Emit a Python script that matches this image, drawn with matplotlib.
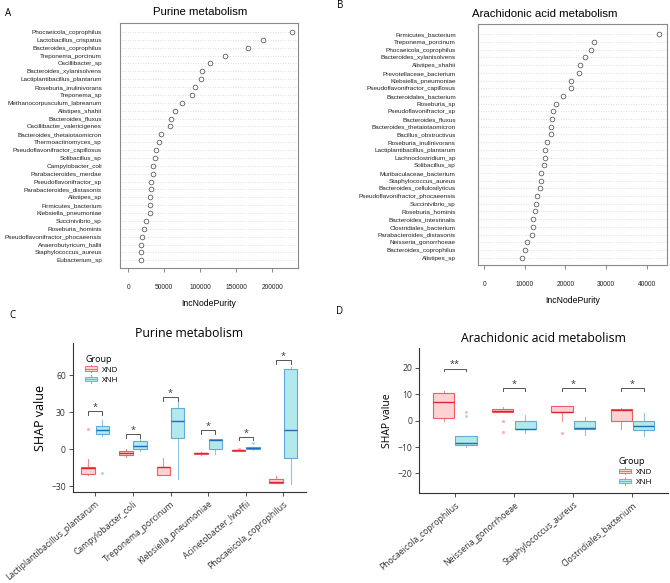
import numpy as np
import matplotlib
matplotlib.use("Agg")
import matplotlib.pyplot as plt
from matplotlib.patches import Rectangle, Patch
from matplotlib.lines import Line2D
from matplotlib.legend_handler import HandlerBase

# ---- data: panel A (IncNodePurity, purine metabolism), top to bottom
a_taxa = ["Phocaeicola_coprophilus", "Lactobacillus_crispatus", "Bacteroides_coprophilus",
          "Treponema_porcinum", "Oscillibacter_sp", "Bacteroides_xylanisolvens",
          "Lactiplantibacillus_plantarum", "Roseburia_inulinivorans", "Treponema_sp",
          "Methanocorpusculum_labreanum", "Alistipes_shahii", "Bacteroides_fluxus",
          "Oscillibacter_valericigenes", "Bacteroides_thetaiotaomicron", "Thermoactinomyces_sp",
          "Pseudoflavonifractor_capillosus", "Solibacillus_sp", "Campylobacter_coli",
          "Parabacteroides_merdae", "Pseudoflavonifractor_sp", "Parabacteroides_distasonis",
          "Alistipes_sp", "Firmicutes_bacterium", "Klebsiella_pneumoniae", "Succinivibrio_sp",
          "Roseburia_hominis", "Pseudoflavonifractor_phocaeensis", "Anaerobutyricum_hallii",
          "Staphylococcus_aureus", "Eubacterium_sp"]
a_vals = [227000, 187000, 166000, 134000, 114000, 102000, 101000, 92500, 88500, 74500,
          65000, 60000, 58000, 46000, 42500, 38000, 37500, 34000, 33800, 32000,
          31000, 30000, 29800, 29600, 25000, 21500, 18600, 17600, 17300, 17200]

# ---- data: panel B (IncNodePurity, arachidonic acid metabolism)
b_taxa = ["Firmicutes_bacterium", "Treponema_porcinum", "Phocaeicola_coprophilus",
          "Bacteroides_xylanisolvens", "Alistipes_shahii", "Prevotellaceae_bacterium",
          "Klebsiella_pneumoniae", "Pseudoflavonifractor_capillosus", "Bacteroidales_bacterium",
          "Roseburia_sp", "Pseudoflavonifractor_sp", "Bacteroides_fluxus",
          "Bacteroides_thetaiotaomicron", "Bacillus_obstructivus", "Roseburia_inulinivorans",
          "Lactiplantibacillus_plantarum", "Lachnoclostridium_sp", "Solibacillus_sp",
          "Muribaculaceae_bacterium", "Staphylococcus_aureus", "Bacteroides_cellulosilyticus",
          "Pseudoflavonifractor_phocaeensis", "Succinivibrio_sp", "Roseburia_hominis",
          "Bacteroides_intestinalis", "Clostridiales_bacterium", "Parabacteroides_distasonis",
          "Neisseria_gonorrhoeae", "Bacteroides_coprophilus", "Alistipes_sp"]
b_vals = [43100, 26900, 26300, 24800, 23600, 23400, 21300, 21300, 19400, 17600,
          17000, 16700, 16500, 16500, 15500, 15000, 15000, 14600, 14000, 14000,
          13700, 13100, 12800, 12400, 12000, 12000, 11700, 10600, 10100, 9400]

# ---- data: panel C (SHAP values, purine metabolism)
c_cats = ["Lactiplantibacillus_plantarum", "Campylobacter_coli", "Treponema_porcinum",
          "Klebsiella_pneumoniae", "Acinetobacter_lwoffii", "Phocaeicola_coprophilus"]
c_xnd_lo = [-20.8, -6.2, -20.8, -4.6, -1.8, -27.8]
c_xnd_q1 = [-20.0, -5.1, -20.8, -4.3, -1.6, -27.8]
c_xnd_med = [-15.4, -3.5, -14.3, -3.5, -1.1, -27.0]
c_xnd_q3 = [-14.3, -1.9, -14.3, -2.9, -0.5, -24.6]
c_xnd_hi = [-8.1, 0.0, -6.8, -2.6, -0.5, -21.9]
c_xnd_out = [[16.5], [], [], [], [0.3], []]
c_xnh_lo = [10.8, -1.6, -24.0, -4.3, -0.8, -28.4]
c_xnh_q1 = [11.9, 0.0, 8.9, 0.0, -0.3, -6.8]
c_xnh_med = [15.4, 2.7, 22.7, 7.3, 0.8, 15.4]
c_xnh_q3 = [18.6, 6.2, 33.2, 7.8, 1.6, 64.9]
c_xnh_hi = [23.5, 7.8, 38.4, 7.8, 1.6, 66.8]
c_xnh_out = [[-19.7], [], [], [], [4.6], []]
c_sig_y = [30.5, 11.9, 41.9, 15.4, 10.0, 72.2]
c_sig = ["*", "*", "*", "*", "*", "*"]

# ---- data: panel D (SHAP values, arachidonic acid metabolism)
d_cats = ["Phocaeicola_coprophilus", "Neisseria_gonorrhoeae", "Staphylococcus_aureus",
          "Clostridiales_bacterium"]
d_xnd_lo = [0.0, 3.1, 0.0, -3.3]
d_xnd_q1 = [0.9, 3.1, 3.1, 0.0]
d_xnd_med = [6.9, 3.6, 3.3, 4.2]
d_xnd_q3 = [10.3, 4.4, 5.4, 4.4]
d_xnd_hi = [11.2, 5.0, 5.4, 4.9]
d_xnd_out = [[], [0.0, -4.3], [-4.7], []]
d_xnh_lo = [-10.1, -4.5, -5.5, -5.8]
d_xnh_q1 = [-9.4, -3.3, -3.3, -3.6]
d_xnh_med = [-8.6, -3.0, -2.9, -1.9]
d_xnh_q3 = [-5.7, 0.0, 0.0, 0.0]
d_xnh_hi = [-5.7, 2.1, 1.5, 2.8]
d_xnh_out = [[3.4, 1.8], [], [], []]
d_sig_y = [19.7, 12.2, 12.2, 12.2]
d_sig = ["**", "*", "*", "*"]

groups = ["XND", "XNH"]

# fonts (no condensed face installed, so use small Liberation Sans for the dotcharts)
narrow = "Liberation Sans"
gg = "Open Sans"

red_edge, red_med, red_fill = "#EE5E66", "#E0232C", "#FCD2D3"
blue_edge, blue_med, blue_fill = "#62AAD8", "#1E6DB6", "#B2E9ED"

fig = plt.figure(figsize=(6.7, 5.83), dpi=100)


def px_axes(l, t, r, b):
    return fig.add_axes([l / 670, 1 - b / 583, (r - l) / 670, (b - t) / 583])


def fig_text(x, y, s, **kw):
    fig.text(x / 670, 1 - y / 583, s, **kw)


def dotchart(ax, names, vals, xmin, xmax, ticks, pad_top, pad_bot, ypad):
    y = np.arange(len(names))
    ax.plot(vals, y, "o", mfc="none", mec="#444444", ms=3.4, mew=0.5, zorder=3)
    ax.set_yticks(y, names, fontfamily=narrow, fontsize=4.6)
    ax.set_ylim(len(names) - 1 + pad_bot, -pad_top)
    ax.set_xlim(xmin, xmax)
    ax.set_xticks(ticks, [str(t) for t in ticks], fontfamily=narrow, fontsize=4.8)
    ax.grid(axis="y", ls=(0, (1, 2)), color="#d4d4d4", lw=0.6)
    ax.set_axisbelow(True)
    ax.tick_params(axis="y", length=0, pad=ypad, colors="#222222")
    ax.tick_params(axis="x", length=3, width=0.6, pad=8.5, color="#777777", labelcolor="#222222")
    for s in ax.spines.values():
        s.set_color("#8a8a8a")
        s.set_linewidth(0.8)
    ax.set_xlabel("IncNodePurity", fontfamily=narrow, fontsize=6.2, labelpad=6)


axA = px_axes(120, 23, 298, 268)
dotchart(axA, a_taxa, a_vals, -11500, 236000, [0, 50000, 100000, 150000, 200000], 1.14, 0.98, 13)
axB = px_axes(478, 24, 667, 265)
dotchart(axB, b_taxa, b_vals, -1550, 45000, [0, 10000, 20000, 30000, 40000], 1.34, 0.95, 16)

fig_text(200, 12, "Purine metabolism", fontfamily=narrow, fontsize=8.2, ha="center", va="center")
fig_text(545, 14, "Arachidonic acid metabolism", fontfamily=narrow, fontsize=8.2, ha="center", va="center")


class BoxKey(HandlerBase):
    def create_artists(self, legend, orig, xd, yd, w, h, fontsize, trans):
        ec, fc = orig.get_edgecolor(), orig.get_facecolor()
        cx = xd + w / 2
        r = Rectangle((xd, yd + 0.15 * h), w, 0.7 * h, fc=fc, ec=ec, lw=0.6, transform=trans)
        m = Line2D([xd, xd + w], [yd + h / 2] * 2, color=ec, lw=0.6, transform=trans)
        w1 = Line2D([cx, cx], [yd - 0.1 * h, yd + 0.15 * h], color=ec, lw=0.6, transform=trans)
        w2 = Line2D([cx, cx], [yd + 0.85 * h, yd + 1.1 * h], color=ec, lw=0.6, transform=trans)
        return [r, m, w1, w2]


def shap_box(ax, cats, xnd, xnh, sig_y, sig, ylim, yticks, tick_drop, title, ylab_size):
    n = len(cats)
    x = np.arange(n)
    for stats_src, off, fill, edge, med in [(xnd, -0.19, red_fill, red_edge, red_med),
                                           (xnh, 0.19, blue_fill, blue_edge, blue_med)]:
        lo, q1, md, q3, hi, out = stats_src
        stats = [dict(whislo=lo[i], q1=q1[i], med=md[i], q3=q3[i], whishi=hi[i], fliers=out[i])
                 for i in range(n)]
        ax.bxp(stats, positions=x + off, widths=0.36, patch_artist=True, showcaps=False,
               manage_ticks=False,
               boxprops=dict(facecolor=fill, edgecolor=edge, linewidth=0.8),
               medianprops=dict(color=med, linewidth=1.0),
               whiskerprops=dict(color=edge, linewidth=0.8, alpha=0.7),
               flierprops=dict(marker="o", markersize=2.3, markerfacecolor=edge,
                               markeredgecolor="none", alpha=0.45))
    for i in range(n):
        x0, x1 = x[i] - 0.19, x[i] + 0.19
        yb = sig_y[i]
        ax.plot([x0, x0, x1, x1], [yb - tick_drop, yb, yb, yb - tick_drop],
                color="#555555", lw=0.7)
        ax.annotate(sig[i], (x[i], yb), xytext=(0, -0.5), textcoords="offset points",
                    ha="center", va="bottom", fontsize=6.5, color="#333333", fontfamily=gg)
    ax.set_xlim(-0.6, n - 0.4)
    ax.set_ylim(*ylim)
    ax.set_yticks(yticks, [str(t).replace("-", "\u2212") for t in yticks])
    ax.set_xticks(x, cats, rotation=40, ha="right", rotation_mode="anchor")
    ax.tick_params(axis="both", length=3, width=0.6, color="#333333", labelcolor="#333333",
                   labelsize=6.2, pad=2)
    for lab in ax.get_xticklabels() + ax.get_yticklabels():
        lab.set_fontfamily(gg)
    for s in ["top", "right"]:
        ax.spines[s].set_visible(False)
    for s in ["left", "bottom"]:
        ax.spines[s].set_color("#333333")
        ax.spines[s].set_linewidth(0.8)
    ax.set_ylabel("SHAP value", fontfamily=gg, fontsize=ylab_size, labelpad=3)
    ax.set_title(title, fontfamily=gg, fontsize=8.8, pad=4)


def legend(ax, anchor):
    handles = [Patch(fc=red_fill, ec=red_edge), Patch(fc=blue_fill, ec=blue_edge)]
    ax.legend(handles, groups, title="Group", loc="upper left", bbox_to_anchor=anchor,
              frameon=False, handler_map={Patch: BoxKey()}, handlelength=1.5, handleheight=0.8,
              handletextpad=0.6, labelspacing=0.3, borderpad=0.2, alignment="left",
              prop=dict(family=gg, size=5.8),
              title_fontproperties=dict(family=gg, size=6.5))


axC = px_axes(72.7, 343, 306, 492.3)
shap_box(axC, c_cats,
         (c_xnd_lo, c_xnd_q1, c_xnd_med, c_xnd_q3, c_xnd_hi, c_xnd_out),
         (c_xnh_lo, c_xnh_q1, c_xnh_med, c_xnh_q3, c_xnh_hi, c_xnh_out),
         c_sig_y, c_sig, (-35, 86), [-30, 0, 30, 60], 3.0, "Purine metabolism", 9)
legend(axC, (0.03, 0.96))

axD = px_axes(419.3, 348, 668, 493.3)
shap_box(axD, d_cats,
         (d_xnd_lo, d_xnd_q1, d_xnd_med, d_xnd_q3, d_xnd_hi, d_xnd_out),
         (d_xnh_lo, d_xnh_q1, d_xnh_med, d_xnh_q3, d_xnh_hi, d_xnh_out),
         d_sig_y, d_sig, (-27.5, 27.5), [-20, -10, 0, 10, 20], 0.8, "Arachidonic acid metabolism", 7.5)
legend(axD, (0.78, 0.29))

# panel letters
for x, y, s in [(8, 13, "A"), (340, 6, "B"), (12, 315, "C"), (340, 312, "D")]:
    fig_text(x, y, s, fontfamily=gg, fontsize=7, ha="center", va="center")

fig.savefig("out.png", dpi=100)
